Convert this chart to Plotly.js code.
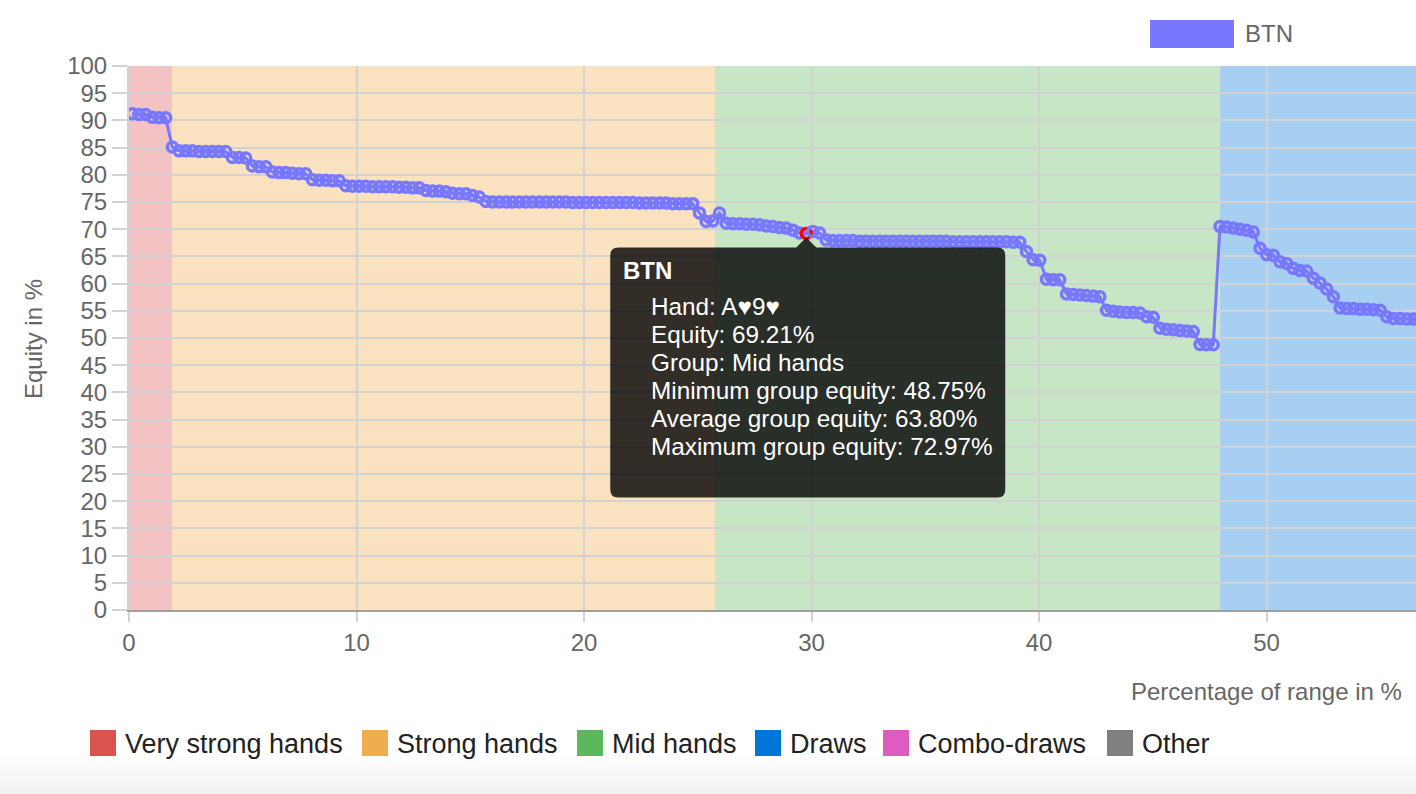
<!DOCTYPE html>
<html>
<head>
<meta charset="utf-8">
<script src="https://cdn.plot.ly/plotly-3.0.1.min.js"></script>
<style>
  html, body { margin: 0; padding: 0; }
  body { width: 1416px; height: 794px; overflow: hidden;
         background: linear-gradient(to bottom, #ffffff 0px, #ffffff 752px, #f1f1f1 794px); }
  #chart { width: 1416px; height: 794px; }
</style>
</head>
<body>
<div id="chart"></div>
<script>
// ---------------- DATA ----------------
const seriesName = 'BTN';

// Equity (%) of each hand combo, sorted by group then equity
const equity = [
  91.2, 91.1, 91.1, 90.6, 90.5, 90.5,                                   // very strong
  85.1, 84.4, 84.4, 84.4, 84.3, 84.3, 84.3, 84.3, 84.3,
  83.2, 83.2, 83.1, 81.6, 81.5, 81.5,
  80.5, 80.4, 80.4, 80.3, 80.2, 80.2,
  79.1, 79.0, 79.0, 78.9, 78.9,
  78.0, 77.9, 77.9, 77.9, 77.8, 77.8, 77.8, 77.8, 77.7,
  77.7, 77.6, 77.6, 77.1, 77.0, 77.0, 76.9,
  76.6, 76.5, 76.5, 76.2, 75.9,
  75.1, 75.0, 75.0, 75.0, 75.0, 75.0, 75.0, 75.0, 75.0, 75.0,
  75.0, 75.0, 75.0, 74.9, 74.9, 74.9, 74.9, 74.9, 74.9, 74.9,
  74.9, 74.9, 74.9, 74.8, 74.8, 74.8, 74.8, 74.8, 74.7, 74.7,
  74.7, 74.7, 73.0, 71.4, 71.5,
  72.97, 71.1, 71.0, 71.0, 70.9, 70.9, 70.8, 70.6, 70.5, 70.3,      // mid hands
  70.2, 69.8, 69.3, 69.21, 69.6, 69.3,
  68.0, 67.9, 67.9, 67.9, 67.9, 67.8, 67.8, 67.8, 67.8, 67.8,
  67.8, 67.8, 67.8, 67.8, 67.8, 67.8, 67.8, 67.8, 67.8, 67.7,
  67.7, 67.7, 67.7, 67.7, 67.7, 67.7, 67.7, 67.7, 67.6, 67.6,
  65.9, 64.4, 64.3, 60.8, 60.7, 60.7,
  58.1, 58.0, 57.9, 57.8, 57.7, 57.6,
  55.1, 54.9, 54.8, 54.7, 54.7, 54.6, 53.9, 53.8,
  51.8, 51.6, 51.5, 51.4, 51.3, 51.2, 48.8, 48.75, 48.75,
  70.5, 70.4, 70.2, 70.0, 69.8, 69.5,                                   // draws
  66.5, 65.3, 65.2, 64.0, 63.7, 62.8, 62.4, 62.3, 61.0, 60.1, 59.0, 57.6,
  55.5, 55.4, 55.4, 55.3, 55.3, 55.2, 55.1,
  53.9, 53.6, 53.6, 53.5, 53.5, 53.5
];
// Position of first combo and width of each combo in "percentage of range"
const firstComboPct = 0.145;
const comboWidthPct = 0.2933;

// Hand groups
const groupNames  = ['Very strong hands', 'Strong hands', 'Mid hands', 'Draws', 'Combo-draws', 'Other'];
const groupColors = ['#d9534f', '#f0ad4e', '#5cb85c', '#0275d8', '#de5cbf', '#808080'];
const groupStart  = [0, 1.89, 25.76, 47.96];      // % of range where each shown group begins
const groupEnd    = [1.89, 25.76, 47.96, 60];

// Hovered point and its tooltip
const hoveredIndex = 101;
const tooltipTitle = 'BTN';
const tooltipLines = [
  'Hand: A\u26659\u2665',
  'Equity: 69.21%',
  'Group: Mid hands',
  'Minimum group equity: 48.75%',
  'Average group equity: 63.80%',
  'Maximum group equity: 72.97%'
];

const xTitle = 'Percentage of range in %';
const yTitle = 'Equity in %';

// ---------------- LAYOUT ----------------
const W = 1416, H = 794;
const M = { l: 129, r: 0, t: 66, b: 184 };
const PW = W - M.l - M.r, PH = H - M.t - M.b;
const px2paperX = px => (px - M.l) / PW;
const py2paperY = py => (H - M.b - py) / PH;

const FONT = '"Liberation Sans", Arial, Helvetica, sans-serif';
const lineBlue = '#7878ff';
const hex2rgba = (h, a) => {
  const n = parseInt(h.slice(1), 16);
  return `rgba(${(n >> 16) & 255},${(n >> 8) & 255},${n & 255},${a})`;
};

const shapes = [];
const annotations = [];

// group background bands
for (let i = 0; i < groupStart.length; i++) {
  shapes.push({
    type: 'rect', layer: 'below', xref: 'x', yref: 'y',
    x0: groupStart[i], x1: groupEnd[i], y0: 0, y1: 100,
    fillcolor: hex2rgba(groupColors[i], 0.35), line: { width: 0 }
  });
}

// top series legend
shapes.push({
  type: 'rect', xref: 'paper', yref: 'paper',
  x0: px2paperX(1150), x1: px2paperX(1234), y0: py2paperY(48), y1: py2paperY(20),
  fillcolor: lineBlue, line: { width: 0 }
});
annotations.push({
  xref: 'paper', yref: 'paper', x: px2paperX(1243), y: py2paperY(33),
  xanchor: 'left', yanchor: 'middle', showarrow: false, text: seriesName,
  font: { family: FONT, size: 24, color: '#666' }
});

// bottom group legend
const legendX = [90, 362, 577, 755, 883, 1107];
groupNames.forEach((name, i) => {
  shapes.push({
    type: 'rect', xref: 'paper', yref: 'paper',
    x0: px2paperX(legendX[i]), x1: px2paperX(legendX[i] + 26),
    y0: py2paperY(756), y1: py2paperY(730),
    fillcolor: groupColors[i], line: { width: 0 }
  });
  annotations.push({
    xref: 'paper', yref: 'paper', x: px2paperX(legendX[i] + 33), y: py2paperY(744),
    xanchor: 'left', yanchor: 'middle', showarrow: false, text: name,
    font: { family: FONT, size: 27, color: '#222' }
  });
});

// axis titles
annotations.push({
  xref: 'paper', yref: 'paper', x: px2paperX(1404), y: py2paperY(691),
  xanchor: 'right', yanchor: 'middle', showarrow: false, text: xTitle,
  font: { family: FONT, size: 24, color: '#666' }
});
annotations.push({
  xref: 'paper', yref: 'paper', x: px2paperX(33), y: py2paperY(339),
  xanchor: 'center', yanchor: 'middle', showarrow: false, text: yTitle, textangle: -90,
  font: { family: FONT, size: 24, color: '#666' }
});

// tooltip anchored on the hovered point (pixel offsets from it)
const tipX = firstComboPct + comboWidthPct * hoveredIndex;
const tipY = equity[hoveredIndex];
const L = -196, R = 199, T = -14, B = -264, r = 8, c = 10;
shapes.push({
  type: 'path', layer: 'above', xref: 'x', yref: 'y',
  xsizemode: 'pixel', ysizemode: 'pixel', xanchor: tipX, yanchor: tipY,
  path: `M ${L + r},${T} L ${-c},${T} L 0,${T + c} L ${c},${T} L ${R - r},${T} ` +
        `Q ${R},${T} ${R},${T - r} L ${R},${B + r} Q ${R},${B} ${R - r},${B} ` +
        `L ${L + r},${B} Q ${L},${B} ${L},${B + r} L ${L},${T - r} Q ${L},${T} ${L + r},${T} Z`,
  fillcolor: 'rgba(0,0,0,0.8)', line: { width: 0 }
});
annotations.push({
  xref: 'x', yref: 'y', x: tipX, y: tipY, xshift: -185, yshift: -37,
  xanchor: 'left', yanchor: 'middle', showarrow: false, text: '<b>' + tooltipTitle + '</b>',
  font: { family: FONT, size: 24, color: '#fff' }
});
tooltipLines.forEach((t, i) => {
  annotations.push({
    xref: 'x', yref: 'y', x: tipX, y: tipY, xshift: -157, yshift: -73 - 28 * i,
    xanchor: 'left', yanchor: 'middle', showarrow: false, text: t,
    font: { family: FONT, size: 24.3, color: '#fff' }
  });
});

const trace = {
  type: 'scatter', mode: 'lines+markers', name: seriesName,
  x0: firstComboPct, dx: comboWidthPct, y: equity,
  line: { color: lineBlue, width: 3 },
  marker: {
    symbol: 'circle-open', size: 10,
    color: equity.map((_, i) => i === hoveredIndex ? '#ff0000' : lineBlue),
    line: { width: 3.5 }
  },
  hoverinfo: 'skip', showlegend: false
};

const axisCommon = {
  showgrid: true, gridcolor: '#d2d2d2', gridwidth: 2,
  ticks: 'outside', tickcolor: '#d2d2d2', tickwidth: 2,
  zeroline: false, showline: true,
  tickfont: { family: FONT, size: 24, color: '#666' }
};

const layout = {
  width: W, height: H, margin: { l: M.l, r: M.r, t: M.t, b: M.b, pad: 0 },
  paper_bgcolor: 'rgba(0,0,0,0)', plot_bgcolor: '#ffffff',
  showlegend: false,
  xaxis: Object.assign({}, axisCommon, {
    range: [0, 56.57], tick0: 0, dtick: 10, ticklen: 10,
    linecolor: '#a0a0a0', linewidth: 2
  }),
  yaxis: Object.assign({}, axisCommon, {
    range: [0, 100], tick0: 0, dtick: 5, ticklen: 15,
    linecolor: '#d2d2d2', linewidth: 2
  }),
  shapes: shapes,
  annotations: annotations,
  font: { family: FONT }
};

Plotly.newPlot('chart', [trace], layout, { displayModeBar: false, staticPlot: true });
</script>
</body>
</html>
